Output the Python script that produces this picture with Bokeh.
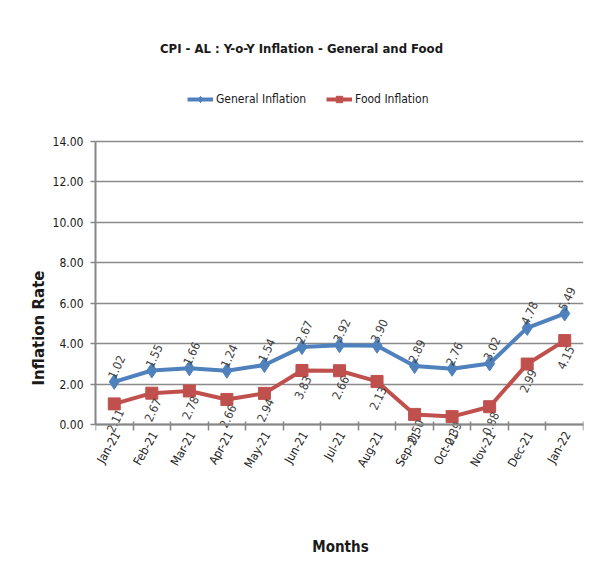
import math
from bokeh.plotting import figure
from bokeh.models import (Range1d, FixedTicker, Legend, LegendItem, ColumnDataSource,
                          Label, Title, NumeralTickFormatter)
from bokeh.core.properties import value
from bokeh.embed import file_html
from bokeh.resources import INLINE

months = ["Jan-21", "Feb-21", "Mar-21", "Apr-21", "May-21", "Jun-21", "Jul-21",
          "Aug-21", "Sep-21", "Oct-21", "Nov-21", "Dec-21", "Jan-22"]
general = [2.11, 2.67, 2.78, 2.66, 2.94, 3.83, 3.92, 3.90, 2.89, 2.76, 3.02, 4.78, 5.49]
food = [1.02, 1.55, 1.66, 1.24, 1.54, 2.67, 2.66, 2.13, 0.50, 0.39, 0.88, 2.99, 4.15]
upper_labels = ["1.02", "1.55", "1.66", "1.24", "1.54", "2.67", "3.92", "3.90", "2.89",
                "2.76", "3.02", "4.78", "5.49"]
lower_labels = ["2.11", "2.67", "2.78", "2.66", "2.94", "3.83", "2.66", "2.13", "0.50",
                "0.39", "0.88", "2.99", "4.15"]
y_ticks = [0, 2, 4, 6, 8, 10, 12, 14]

NARROW = "'Liberation Sans Narrow', 'DejaVu Sans Condensed', 'Open Sans'"
BLUE = "#4f81bd"
RED = "#c0504d"

# layout (pixels)
W, H = 590, 582
BOTTOM_PANEL = 24
FRAME_H = H - BOTTOM_PANEL          # frame spans 0 .. 558
PX_PER_UNIT = (424 - 141) / 14.0    # y=0 at 424, y=14 at 141
y_top = 14 + 141 / PX_PER_UNIT
y_bot = -(FRAME_H - 424) / PX_PER_UNIT

idx = list(range(len(months)))
src = ColumnDataSource(dict(x=idx, general=general, food=food,
                            up=upper_labels, lo=lower_labels,
                            zero=[0] * len(months), month=months))

p = figure(width=W, height=H, x_range=Range1d(-0.5, len(months) - 0.5),
           y_range=Range1d(y_bot, y_top), output_backend="svg", toolbar_location=None,
           min_border_left=95, min_border_right=7, min_border_top=0,
           min_border_bottom=BOTTOM_PANEL)
p.outline_line_color = None
p.background_fill_color = "white"
p.border_fill_color = "white"

# x axis drawn at y = 0 inside the frame; tick marks at category boundaries,
# month names drawn as text glyphs
p.xaxis.fixed_location = 0
p.xaxis.ticker = FixedTicker(ticks=[], minor_ticks=[i - 0.5 for i in range(len(months) + 1)])
p.xaxis.major_tick_out = 0
p.xaxis.major_tick_in = 0
p.xaxis.minor_tick_out = 6
p.xaxis.minor_tick_in = 3
p.xaxis.minor_tick_line_color = "#868686"
p.xaxis.minor_tick_line_width = 1.5

p.yaxis.bounds = (0, 14)
p.yaxis.ticker = FixedTicker(ticks=y_ticks)
p.yaxis.formatter = NumeralTickFormatter(format="0.00")
p.yaxis.major_tick_out = 5
p.yaxis.major_tick_in = 0
p.yaxis.minor_tick_line_color = None
p.yaxis.major_label_standoff = 7
p.yaxis.major_label_text_font = NARROW
p.yaxis.major_label_text_font_size = "12px"
p.yaxis.major_label_text_color = "#1a1a1a"

for ax in (p.xaxis, p.yaxis):
    ax.axis_line_color = "#868686"
    ax.axis_line_width = 2
    ax.major_tick_line_color = "#868686"
    ax.major_tick_line_width = 1.5

p.xgrid.grid_line_color = None
p.ygrid.ticker = FixedTicker(ticks=y_ticks)
p.ygrid.grid_line_color = "#8a8a8a"
p.ygrid.grid_line_width = 1.5

# month labels under the axis
p.text("x", "zero", text="month", source=src, angle=1.05, text_align="right",
       text_baseline="middle", x_offset=3, y_offset=8,
       text_font=value(NARROW), text_font_size="12px", text_color="#222222")

# series
gl = p.line("x", "general", source=src, line_color=BLUE, line_width=4)
gm = p.scatter("x", "general", source=src, marker="diamond", size=15,
               fill_color=BLUE, line_color=BLUE)
fl = p.line("x", "food", source=src, line_color=RED, line_width=4)
fm = p.scatter("x", "food", source=src, marker="square", size=12,
               fill_color=RED, line_color=RED)

# data labels
p.text("x", "general", text="up", source=src, angle=1.13, text_align="left",
       text_baseline="middle", x_offset=-3, y_offset=-4,
       text_font=value(NARROW), text_font_size="12px", text_color="#404040")
p.text("x", "food", text="lo", source=src, angle=1.13, text_align="right",
       text_baseline="middle", x_offset=6, y_offset=6,
       text_font=value(NARROW), text_font_size="12px", text_color="#404040")

# legend (inside the frame, above the plotted area)
legend = Legend(items=[LegendItem(label="General Inflation", renderers=[gl, gm]),
                       LegendItem(label="Food Inflation", renderers=[fl, fm])],
                orientation="horizontal", location=(92, FRAME_H - 107),
                border_line_color=None, background_fill_alpha=0,
                padding=0, margin=0, spacing=20, label_standoff=3,
                glyph_width=26, glyph_height=16, label_height=16,
                label_text_font=NARROW, label_text_font_size="12px",
                label_text_color="#1a1a1a")
p.add_layout(legend, "center")

# chart title
p.add_layout(Label(x=206, y=FRAME_H - 48, x_units="screen", y_units="screen",
                   text="CPI - AL : Y-o-Y Inflation - General and Food",
                   text_align="center", text_baseline="middle",
                   text_font=NARROW, text_font_style="bold",
                   text_font_size="13px", text_color="#1a1a1a"))

# x axis title
p.add_layout(Label(x=245, y=FRAME_H - 546, x_units="screen", y_units="screen",
                   text="Months", text_align="center", text_baseline="middle",
                   text_font=NARROW, text_font_style="bold",
                   text_font_size="15px", text_color="#1a1a1a"))

# y axis title
p.add_layout(Title(text="Inflation Rate", align="left", offset=FRAME_H - 385,
                   text_font="DejaVu Sans", text_font_style="bold",
                   text_font_size="15px", text_color="#1a1a1a", standoff=4),
             "left")

open("out.html", "w").write(file_html(p, INLINE))
